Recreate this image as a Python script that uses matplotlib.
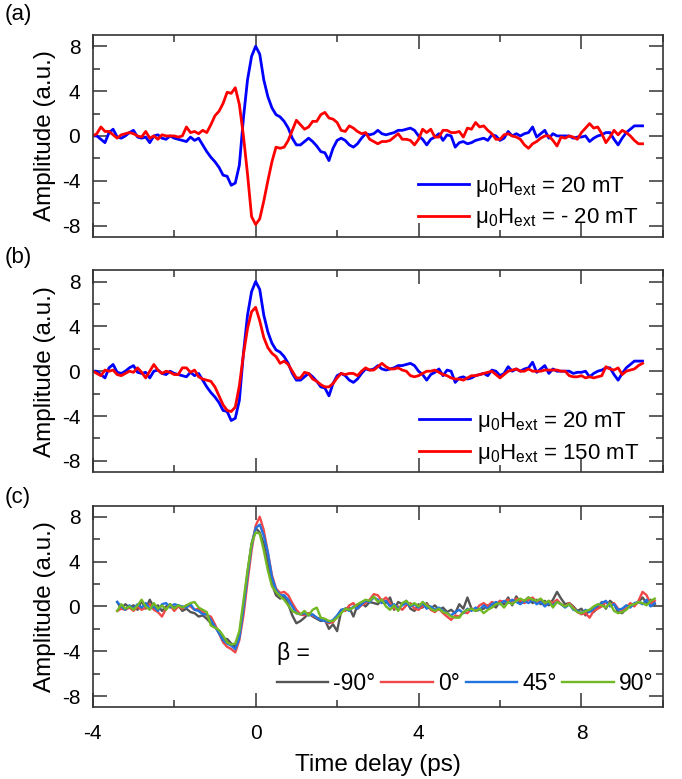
import numpy as np
import matplotlib
matplotlib.use("Agg")
import matplotlib.pyplot as plt
from matplotlib.ticker import MultipleLocator

plt.rcParams["font.family"] = ["Liberation Sans", "DejaVu Sans"]
plt.rcParams["mathtext.default"] = "regular"
plt.rcParams["axes.unicode_minus"] = False

# time axes (ps), 0.1 ps sampling
time_ab = np.round(np.arange(-4.0, 9.55, 0.1), 2)   # panels (a), (b)
time_c = np.round(np.arange(-3.4, 9.85, 0.1), 2)    # panel (c)

# panel (a)/(b): mu0 Hext = 20 mT
amp_20mT = [
    0.0, 0.0, -0.3, -0.6, 0.3, 0.6, -0.1, -0.2, 0.0, 0.3,
    0.5, -0.1, -0.2, -0.1, -0.6, 0.0, 0.1, -0.2, -0.3, 0.0,
    -0.2, -0.3, -0.4, -0.5, -0.1, -0.4, -0.2, -0.8, -1.4, -1.9,
    -2.3, -2.8, -3.5, -3.6, -4.4, -4.2, -2.6, 1.6, 5.0, 7.1,
    8.0, 7.3, 5.0, 3.5, 2.5, 1.9, 1.7, 1.3, 0.7, -0.2,
    -0.8, -0.8, -0.5, -0.2, -0.5, -0.9, -1.4, -1.5, -2.2, -1.1,
    -0.4, -0.2, -0.4, -0.8, -1.0, -0.7, -0.2, 0.2, 0.1, 0.2,
    0.5, 0.2, 0.1, 0.2, 0.3, 0.5, 0.5, 0.6, 0.7, 0.5,
    0.0, -0.3, -0.8, -0.3, -0.1, 0.2, -0.4, 0.1, 0.0, -1.0,
    -0.6, -0.5, -0.7, -0.6, -0.4, -0.3, -0.2, -0.4, 0.1, 0.0,
    -0.4, -0.2, 0.4, 0.0, 0.2, 0.0, 0.2, 0.3, 0.8, -0.1,
    0.2, 0.5, -0.2, 0.2, 0.0, 0.0, 0.0, 0.0, -0.2, -0.1,
    -0.1, 0.0, -0.5, -0.2, 0.0, 0.1, 0.3, 0.3, -0.3, -0.8,
    -0.2, 0.3, 0.6, 0.9, 0.9, 0.9,
]
# panel (a): mu0 Hext = -20 mT
amp_m20mT = [
    0.0, 0.2, 0.8, 0.4, 0.4, 0.1, -0.2, 0.1, 0.2, 0.3,
    0.2, 0.0, -0.1, 0.4, -0.2, 0.0, -0.3, 0.1, 0.0, 0.0,
    0.0, -0.1, 0.0, 0.8, 0.3, 0.4, 0.2, 0.5, 0.3, 1.0,
    1.8, 2.2, 2.9, 3.9, 3.8, 4.3, 2.8, 0.0, -3.4, -7.2,
    -7.9, -7.4, -5.8, -4.0, -2.3, -1.0, -1.1, -1.0, -0.4, 0.5,
    1.4, 1.0, 0.6, 0.8, 1.3, 1.3, 1.9, 2.1, 1.6, 1.5,
    1.2, 0.5, 0.4, 0.9, 0.7, 0.4, 0.2, 0.3, -0.3, -0.5,
    -0.7, -0.5, -0.5, -0.4, -0.1, 0.2, -0.3, -0.3, -0.4, -0.8,
    -0.3, 0.6, 0.3, 0.6, -0.1, -0.1, 0.5, 0.5, 0.3, 0.3,
    0.4, -0.1, 0.7, 0.6, 1.2, 0.8, 0.9, 0.5, 0.2, -0.3,
    -0.3, 0.1, 0.2, 0.0, -0.1, -0.3, -0.8, -1.1, -0.7, -0.5,
    -0.2, 0.0, 0.0, -0.4, -0.9, -0.1, -0.2, 0.0, -0.1, -0.3,
    0.3, 0.7, 1.1, 0.7, 0.8, 0.2, -0.6, -0.1, 0.5, 0.1,
    0.5, 0.3, 0.0, -0.4, -0.7, -0.7,
]
# panel (b): mu0 Hext = 150 mT
amp_150mT = [
    0.0, -0.2, -0.4, 0.1, 0.0, 0.1, -0.3, -0.4, -0.2, 0.0,
    -0.1, 0.3, -0.1, -0.6, 0.0, 0.6, 0.1, -0.2, 0.0, -0.1,
    -0.3, -0.3, 0.3, 0.3, -0.1, 0.1, -0.5, -0.7, -0.8, -0.9,
    -1.4, -2.2, -3.0, -3.5, -3.6, -3.2, -1.3, 1.5, 3.8, 5.3,
    5.7, 4.5, 3.0, 2.1, 1.6, 1.3, 0.7, 0.9, 0.6, 0.0,
    -0.6, -0.6, -0.1, -0.2, -0.7, -0.9, -1.2, -1.4, -1.4, -1.1,
    -0.6, -0.2, -0.3, -0.2, -0.2, -0.4, 0.0, 0.3, 0.1, 0.1,
    0.4, 0.7, 0.4, 0.2, 0.2, 0.3, 0.1, 0.0, -0.4, -0.5,
    -0.4, -0.2, 0.0, 0.0, 0.1, -0.1, -0.3, -0.4, -0.6, -0.7,
    -0.7, -0.8, -0.6, -0.4, -0.4, -0.3, -0.2, -0.1, 0.0, -0.3,
    -0.6, -0.3, 0.0, 0.1, 0.2, 0.0, 0.0, 0.2, 0.0, 0.0,
    0.0, 0.1, 0.1, 0.1, 0.1, 0.0, 0.0, -0.4, -0.5, -0.5,
    -0.4, -0.6, -0.5, -0.6, -0.5, -0.4, 0.4, 0.2, 0.1, 0.3,
    -0.3, 0.0, 0.1, 0.2, 0.5, 0.7,
]

# panel (c): beta = -90, 0, 45, 90 deg
amp_beta_m90 = [
    0.4, -0.2, 0.2, -0.1, 0.1, -0.3, 0.5, -0.2, 0.6, -0.1,
    0.1, -0.4, 0.0, 0.2, -0.1, 0.1, -0.4, -0.2, -0.5, -0.6,
    -0.9, -0.8, -1.1, -1.5, -1.8, -2.3, -2.9, -2.9, -3.3, -3.6,
    -2.6, 0.0, 3.0, 5.6, 7.0, 6.6, 5.6, 3.8, 2.0, 1.0,
    0.7, 0.9, 0.2, -0.8, -1.5, -1.3, -1.0, -0.6, -0.9, -1.1,
    -1.3, -1.2, -2.0, -1.6, -2.2, -0.4, -0.2, -0.1, -0.9, 0.1,
    0.3, 0.0, 0.4, 0.3, 0.2, 0.6, 0.3, 0.8, -0.3, 0.4,
    0.2, 0.5, -0.2, -0.4, 0.2, -0.1, 0.3, -0.2, 0.1, -0.3,
    -0.1, -0.5, -0.3, -0.6, 0.2, -0.2, 0.8, -0.2, -0.4, -0.3,
    -0.2, 0.1, 0.2, -0.1, 0.5, 0.2, 0.8, 0.1, 0.9, 0.3,
    0.5, 0.8, 0.3, 0.6, 0.2, 0.5, 0.1, 0.6, 1.3, 0.7,
    0.2, 0.3, 0.0, -0.4, -0.2, -0.8, -0.3, -0.5, -0.1, 0.4,
    -0.2, 0.5, 0.2, -0.5, -0.6, -0.2, 0.2, 0.1, 0.4, 0.8,
    0.3, 0.6, 0.2,
]
amp_beta_0 = [
    -0.4, -0.2, -0.3, -0.1, -0.4, 0.0, -0.3, -0.1, 0.2, -0.3,
    -0.5, -0.9, -0.2, 0.1, -0.4, 0.0, -0.2, 0.1, 0.0, -0.3,
    -0.2, -0.5, -0.8, -0.9, -1.6, -2.4, -3.2, -3.6, -3.8, -4.1,
    -3.0, -0.8, 2.2, 5.0, 7.2, 8.0, 6.8, 4.8, 2.8, 1.6,
    1.2, 1.3, 1.0, 0.3, -0.3, -0.7, -0.8, -0.6, -0.8, -1.0,
    -1.1, -1.3, -1.5, -1.4, -0.9, -0.3, -0.4, 0.1, 0.3, -0.2,
    0.1, 0.3, 0.6, 1.1, 1.0, 0.5, 0.8, 0.3, -0.2, 0.0,
    -0.3, 0.1, 0.3, -0.2, -0.3, 0.0, 0.2, -0.3, -0.5, -0.2,
    -0.6, -0.9, -1.2, -0.8, -0.9, -0.5, -0.6, -0.2, -0.3, 0.1,
    0.3, 0.0, 0.4, 0.2, 0.5, 0.4, 0.6, 0.3, 0.7, 0.5,
    0.3, 0.6, 0.8, 0.4, 0.6, 0.2, 0.5, 0.3, 0.6, 0.2,
    0.0, 0.3, -0.1, -0.5, -0.7, -0.6, -1.0, -0.4, -0.2, 0.0,
    0.4, 0.1, 0.3, -0.2, -0.4, -0.1, 0.3, 0.0, 0.5, 1.3,
    1.0, 0.2, 0.5,
]
amp_beta_45 = [
    0.4, 0.0, -0.3, 0.1, -0.2, 0.2, -0.1, 0.3, -0.2, 0.0,
    -0.4, 0.2, 0.3, -0.1, 0.2, 0.1, 0.0, -0.1, 0.2, -0.3,
    -0.4, -0.7, -0.7, -1.2, -1.8, -2.4, -3.0, -3.3, -3.5, -3.8,
    -2.8, -0.2, 2.8, 5.4, 7.0, 7.3, 6.3, 4.8, 2.6, 1.5,
    1.0, 1.0, 0.6, 0.0, -0.6, -0.7, -0.6, -0.8, -0.7, -1.0,
    -1.2, -1.3, -1.4, -1.2, -0.8, -0.3, -0.2, -0.4, 0.0, -0.2,
    0.2, 0.5, 0.4, 0.8, 0.6, 0.3, 0.5, 0.0, 0.2, -0.2,
    0.1, 0.3, 0.0, 0.2, -0.1, 0.3, -0.2, 0.0, -0.3, -0.1,
    -0.4, -0.6, -0.8, -0.5, -0.3, -0.6, -0.2, -0.4, -0.1, -0.3,
    0.1, -0.2, 0.2, 0.4, 0.2, 0.5, 0.3, 0.6, 0.4, 0.2,
    0.5, 0.3, 0.6, 0.2, 0.4, 0.0, 0.3, 0.1, 0.4, 0.2,
    -0.1, 0.2, -0.3, -0.4, -0.6, -0.3, -0.5, -0.2, 0.1, 0.3,
    0.5, 0.0, 0.2, -0.3, -0.2, 0.1, -0.1, 0.3, 0.4, 0.2,
    0.6, 0.0, 0.3,
]
amp_beta_90 = [
    -0.4, 0.2, -0.2, 0.0, -0.3, 0.1, 0.6, 0.0, -0.3, 0.3,
    -0.2, 0.1, -0.3, 0.2, -0.2, 0.1, -0.1, 0.1, 0.3, 0.4,
    -0.1, -0.3, -0.5, -1.7, -1.9, -2.1, -2.6, -3.2, -3.4, -3.3,
    -2.2, 0.5, 3.2, 5.6, 6.6, 6.5, 5.0, 3.2, 1.8, 1.3,
    0.9, 0.6, 0.1, -0.4, -0.6, -0.7, -0.4, -0.8, -0.3, -0.1,
    -1.0, -1.1, -1.3, -1.3, -1.0, -0.6, -0.2, -0.3, -0.1, 0.2,
    0.4, 0.6, 0.5, 0.9, 0.4, 0.6, 0.0, -0.3, 0.1, -0.4,
    0.3, 0.5, 0.1, 0.3, 0.0, 0.4, 0.1, -0.2, -0.4, -0.2,
    -0.5, -0.6, -0.9, -1.0, -1.0, -0.5, -0.3, -0.2, -0.4, -0.2,
    -0.6, -0.3, -0.1, 0.2, 0.3, -0.1, 0.4, 0.2, 0.5, 0.7,
    0.5, 0.8, 0.6, 0.5, 0.7, 0.3, 0.5, -0.1, 0.4, 0.2,
    0.0, 0.2, -0.2, -0.5, -0.6, -0.4, -0.3, 0.0, 0.2, 0.1,
    -0.1, 0.3, -0.4, -0.6, -0.5, -0.3, 0.1, 0.2, 0.4, 0.3,
    0.1, 0.5, 0.7,
]

labels_a = ["$\\mu_0H_{ext}$ = 20 mT", "$\\mu_0H_{ext}$ = - 20 mT"]
labels_b = ["$\\mu_0H_{ext}$ = 20 mT", "$\\mu_0H_{ext}$ = 150 mT"]
labels_c = ["-90°", "0°", "45°", "90°"]
colors_c = ["#555555", "#f04848", "#2272e0", "#72b824"]

FS_TICK = 15
FS_LAB = 17.5
FS_LEG = 16

fig = plt.figure(figsize=(6.82, 7.79), dpi=100)
left, width, height = 0.136, 0.836, 0.259
ax_a = fig.add_axes([left, 0.696, width, height])
ax_b = fig.add_axes([left, 0.394, width, height])
ax_c = fig.add_axes([left, 0.092, width, height])

def style(ax, show_x):
    ax.set_xlim(-4, 10)
    ax.set_ylim(-9, 9)
    ax.xaxis.set_major_locator(MultipleLocator(4))
    ax.xaxis.set_minor_locator(MultipleLocator(2))
    ax.yaxis.set_major_locator(MultipleLocator(4))
    ax.yaxis.set_minor_locator(MultipleLocator(2))
    ax.tick_params(which="both", direction="in", top=True, right=True,
                   labelsize=FS_TICK, color="#333333", width=1.1)
    ax.tick_params(which="major", length=10)
    ax.tick_params(which="minor", length=5)
    ax.tick_params(axis="y", pad=9)
    ax.tick_params(axis="x", pad=12, labelbottom=show_x)
    for s in ax.spines.values():
        s.set_linewidth(1.2)
        s.set_color("#333333")
    ax.set_ylabel("Amplitude (a.u.)", fontsize=FS_LAB)
    ax.yaxis.set_label_coords(-0.065, 0.5)

leg_kw = dict(loc="lower right", frameon=False, fontsize=FS_LEG,
              handlelength=2.3, handletextpad=0.3, labelspacing=0.35,
              borderpad=0.2)

# (a)
ax_a.plot(time_ab, amp_20mT, color="#0000ff", lw=2.0, label=labels_a[0])
ax_a.plot(time_ab, amp_m20mT, color="#ff0000", lw=2.0, label=labels_a[1])
style(ax_a, False)
ax_a.legend(bbox_to_anchor=(0.985, -0.045), **leg_kw)

# (b)
ax_b.plot(time_ab, amp_20mT, color="#0000ff", lw=2.0, label=labels_b[0])
ax_b.plot(time_ab, amp_150mT, color="#ff0000", lw=2.0, label=labels_b[1])
style(ax_b, False)
ax_b.legend(bbox_to_anchor=(0.985, -0.045), **leg_kw)

# (c)
series_c = [amp_beta_m90, amp_beta_0, amp_beta_45, amp_beta_90]
for vals, col, lab in zip(series_c, colors_c, labels_c):
    ax_c.plot(time_c, vals, color=col, lw=1.7, label=lab)
style(ax_c, True)
ax_c.set_xlabel("Time delay (ps)", fontsize=FS_LAB, labelpad=8)
ax_c.legend(loc="lower right", bbox_to_anchor=(1.012, -0.02), frameon=False,
            fontsize=16.5, ncol=4, handlelength=2.25, handletextpad=0.22,
            columnspacing=0.25, title="β =", title_fontsize=16.5,
            alignment="left", borderpad=0.2, labelspacing=0.3)

for lab, ypos in [("(a)", 0.981), ("(b)", 0.669), ("(c)", 0.362)]:
    fig.text(0.007, ypos, lab, fontsize=16, va="center", ha="left")

fig.savefig("out.png", dpi=100)
